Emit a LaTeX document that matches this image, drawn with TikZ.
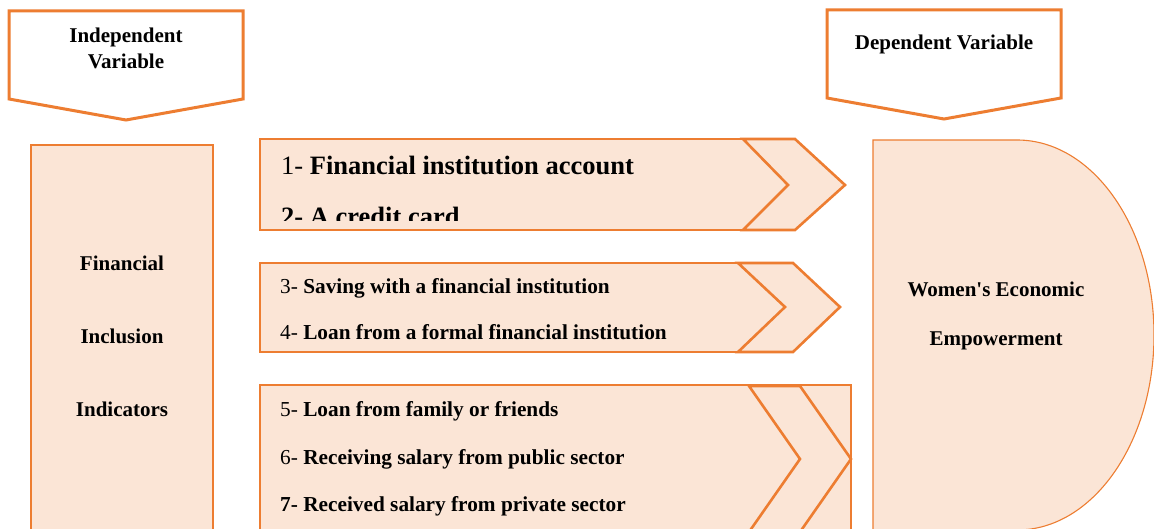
\documentclass[tikz,border=0pt]{standalone}
\usepackage{fontspec}
\setmainfont{Liberation Serif}
\usepackage{xcolor}
\usepackage{tikz}
\usetikzlibrary{positioning}

\definecolor{peach}{HTML}{FBE5D6}
\definecolor{rust}{HTML}{ED7D31}

\begin{document}
\begin{tikzpicture}[
  x=1pt, y=-1pt,
  banner/.style={
    draw=rust,
    line width=3pt,
    fill=white,
    line join=miter
  },
  panel/.style={
    draw=rust,
    line width=1.1pt,
    fill=peach
  },
  chevron/.style={
    draw=rust,
    line width=2.6pt,
    fill=peach,
    line join=miter
  },
  head/.style={
    anchor=base,
    inner sep=0pt,
    font=\fontsize{21}{25}\selectfont\bfseries
  },
  item/.style={
    anchor=base west,
    inner sep=0pt,
    font=\fontsize{21.3}{25}\selectfont
  },
  bigitem/.style={
    anchor=base west,
    inner sep=0pt,
    font=\fontsize{26.5}{30}\selectfont
  }
]

  \useasboundingbox (0,0) rectangle (1154,529);
  \clip (0,0) rectangle (1154,529);

  % Variable banners
  \draw[banner] (9,11) -- (243,11) -- (243,99) -- (126,120) -- (9,99) -- cycle;
  \node[head] (indep1) at (126,43) {Independent};
  \node[head] (indep2) at (126,69) {Variable};

  \draw[banner] (827,10) -- (1061,10) -- (1061,98) -- (944,119) -- (827,98) -- cycle;
  \node[head] (dep) at (944,50) {Dependent Variable};

  % Financial inclusion column
  \draw[panel] (31,145) rectangle (213,545);
  \node[head] (fin) at (122,271) {Financial};
  \node[head] (incl) at (122,344) {Inclusion};
  \node[head] (indic) at (122,416) {Indicators};

  % First group of indicators
  \draw[panel] (260,139) rectangle (795,230);
  \draw[chevron] (743,139) -- (795,139) -- (845,185) -- (795,230) -- (743,230) -- (788,185) -- cycle;
  \node[bigitem] (ind1) at (281,175) {1- \textbf{Financial institution account}};
  \begin{scope}
    \clip (261,140) rectangle (742,221);
    \node[bigitem] (ind2) at (281,226) {\textbf{2- A credit card}};
  \end{scope}

  % Second group
  \draw[panel] (260,263) rectangle (793,352);
  \draw[chevron] (738,263) -- (793,263) -- (840,307) -- (793,352) -- (738,352) -- (785,307) -- cycle;
  \node[item] (ind3) at (280,294) {3- \textbf{Saving with a financial institution}};
  \node[item] (ind4) at (280,340) {4- \textbf{Loan from a formal financial institution}};

  % Third group
  \draw[panel] (260,385) rectangle (851,545);
  \draw[chevron] (749,386) -- (800,386) -- (851,459) -- (800,532) -- (749,532) -- (800,459) -- cycle;
  \node[item] (ind5) at (280,416) {5- \textbf{Loan from family or friends}};
  \node[item] (ind6) at (280,464) {6- \textbf{Receiving salary from public sector}};
  \node[item] (ind7) at (280,511) {\textbf{7- Received salary from private sector}};

  % Empowerment outcome
  \draw[panel] (873,140) -- (1017,140) arc[start angle=-90, end angle=90, x radius=137, y radius=195] -- (873,530) -- cycle;
  \node[head] (emp1) at (996,297) {Women\textquotesingle s Economic};
  \node[head] (emp2) at (996,345) {Empowerment};

\end{tikzpicture}
\end{document}
